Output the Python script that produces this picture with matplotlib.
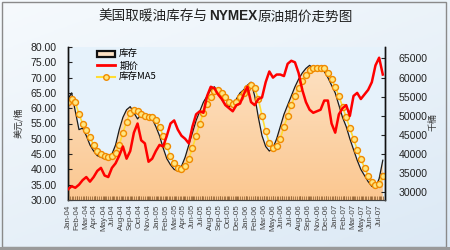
import matplotlib
matplotlib.use('Agg')
import matplotlib.pyplot as plt
import numpy as np
import pandas as pd
from matplotlib.patches import Patch, Rectangle
from matplotlib.lines import Line2D
from matplotlib.colors import LinearSegmentedColormap
from matplotlib.ticker import MultipleLocator, FormatStrFormatter

# ---------------- data (semi-monthly, Jan-04 .. Jul-07) ----------------
stock = [54400, 56000, 51200, 46400, 46800, 44800, 42400, 40800, 39600, 39200,
         38800, 39200, 40000, 42400, 46400, 49600, 51600, 52400, 50800, 49200,
         50400, 49200, 49600, 49200, 47200, 44800, 41600, 38800, 37200, 36000,
         35600, 36800, 39200, 42400, 45600, 48800, 51200, 53600, 55200, 56800,
         57600, 56000, 54400, 52800, 52400, 53200, 54400, 56000, 56800, 58000,
         58800, 55200, 49600, 44800, 42000, 40800, 41600, 44000, 47200, 50400,
         52800, 55200, 57600, 59600, 61200, 62400, 63200, 62400, 62000, 62800,
         61600, 60000, 58000, 56000, 52800, 49600, 47200, 44000, 41200, 38400,
         36000, 34400, 32800, 31600, 31200, 33600, 38400]

stock_ma5 = [53600, 54400, 53600, 50400, 48000, 46400, 44400, 42400, 40800, 40000,
             39440, 39200, 39440, 40400, 42400, 45600, 48400, 50800, 51600, 51200,
             50400, 49840, 49600, 49600, 48800, 47200, 44800, 42000, 39600, 37600,
             36400, 36160, 36800, 38800, 41600, 44800, 48000, 50800, 53200, 54800,
             56400, 56800, 56000, 54800, 53600, 53200, 53600, 54800, 56000, 57200,
             58000, 57200, 54400, 50000, 46000, 42800, 41600, 42000, 44000, 47200,
             50000, 52800, 55200, 57200, 59200, 60800, 62000, 62640, 62400, 62400,
             62400, 61200, 59600, 57600, 55200, 52400, 49600, 46800, 44000, 41200,
             38800, 36400, 34400, 32800, 32000, 32160, 34400]

price = [33.5, 34.5, 34.0, 35.0, 36.5, 37.5, 36.0, 37.5, 39.5, 40.5,
         38.0, 37.5, 40.5, 42.0, 44.5, 47.5, 43.5, 46.0, 52.0, 55.0,
         49.5, 48.5, 42.5, 43.5, 46.0, 48.0, 47.5, 51.0, 55.0, 56.0,
         53.0, 51.0, 50.0, 48.5, 54.0, 58.0, 59.0, 58.5, 64.0, 67.0,
         66.5, 64.5, 63.0, 61.0, 60.0, 59.0, 61.0, 61.5, 64.5, 67.0,
         62.0, 61.0, 63.0, 63.5, 68.5, 72.0, 70.0, 71.0, 71.0, 70.5,
         74.5, 75.5, 75.0, 71.5, 66.0, 62.0, 59.5, 58.5, 59.0, 59.5,
         62.5, 62.5, 55.0, 52.0, 58.0, 60.0, 61.0, 57.5, 64.0, 65.0,
         63.0, 64.5, 66.0, 68.5, 74.0, 76.5, 71.0]

tick_dates = pd.date_range('2004-01-02', periods=36, freq='37D')
tick_labels = [d.strftime('%b-%y') for d in tick_dates]
tick_pos = [(d - pd.Timestamp('2004-01-01')).days / 15.22 for d in tick_dates]

title_parts = ['美国取暖油库存与', 'NYMEX', '原油期价走势图']
legend_labels = ['库存', '期价', '库存MA5']

CJK = ['Noto Sans CJK SC', 'DejaVu Sans']
plt.rcParams['font.family'] = ['Liberation Sans', 'Noto Sans CJK SC', 'DejaVu Sans']

W, H = 450, 250
fig = plt.figure(figsize=(4.5, 2.5), dpi=100)

# figure background gradient
bg = fig.add_axes([0, 0, 1, 1], zorder=-5)
gy, gx = np.mgrid[0:1:100j, 0:1:100j]
bgc = LinearSegmentedColormap.from_list('bg', ['#f6fafd', '#dce9f5'])
bg.imshow(0.6 * gy + 0.4 * gx, cmap=bgc, aspect='auto', extent=[0, 1, 0, 1], origin='upper')
bg.add_patch(Rectangle((0.004, 0.012), 0.988, 0.982, fill=False, ec='#8a8a8a', lw=1.0,
                       transform=bg.transAxes))
bg.add_patch(Rectangle((0.0, 0.0), 1.0, 0.014, fc='#9a9a9a', ec='none', transform=bg.transAxes))
bg.set_xlim(0, 1); bg.set_ylim(0, 1)
bg.axis('off')

ax = fig.add_axes([68 / W, 50 / H, 317 / W, 153 / H])
ax2 = ax.twinx()
ax.set_zorder(2)
ax2.set_zorder(1)
ax.patch.set_visible(False)
ax2.patch.set_visible(True)
ax2.patch.set_facecolor('#e6f2fb')

x = np.arange(len(stock))

# stock area with gradient
poly = ax2.fill_between(x, stock, 28000, color='none', lw=0)
path = poly.get_paths()[0]
grad = np.linspace(0, 1, 256).reshape(-1, 1)
pc = LinearSegmentedColormap.from_list('p', ['#fbc790', '#fde4c8'])
im = ax2.imshow(grad, extent=[0, len(stock) - 1, 28000, 68000], origin='lower',
                aspect='auto', cmap=pc, zorder=1)
im.set_clip_path(path, transform=ax2.transData)
ax2.plot(x, stock, color='#1a1a1a', lw=0.9, zorder=2)
ax2.plot(x, stock_ma5, color='#ffdd33', lw=1.2, marker='o', ms=4.3, mfc='#ffe680',
         mec='#f08a00', mew=1.0, zorder=3)

ax.plot(x, price, color='#ff0000', lw=1.8, zorder=4)

ax.set_xlim(0, 86.6)
ax.set_ylim(30, 80)
ax2.set_ylim(28000, 68000)

ax.yaxis.set_major_locator(MultipleLocator(5))
ax.yaxis.set_major_formatter(FormatStrFormatter('%.2f'))
ax2.yaxis.set_major_locator(MultipleLocator(5000))

ax.set_xticks(tick_pos)
ax.set_xticklabels(tick_labels, rotation=90, fontsize=5.8, color='#444444')
ax.xaxis.set_minor_locator(MultipleLocator(0.5))
ax.tick_params(axis='x', which='both', direction='in', length=3, color='#9a6a3a', pad=3)
ax.tick_params(axis='y', direction='in', length=3, labelsize=7.6, pad=8, colors='#222222')
ax2.tick_params(axis='y', direction='in', length=3, labelsize=7.6, pad=10, colors='#222222')

for a in (ax, ax2):
    a.spines['top'].set_visible(False)
    for s in ('left', 'right'):
        a.spines[s].set_color('#111111')
        a.spines[s].set_linewidth(1.0)
    a.spines['bottom'].set_color('#444444')

# title
ty = 1 - 20.5 / H
fig.text(98 / W, ty, title_parts[0], fontsize=9.8, family=CJK, va='baseline', ha='left', color='#222222')
fig.text(209 / W, ty, title_parts[1], fontsize=9.8, family=['Liberation Sans'], fontweight='bold',
         va='baseline', ha='left', color='#222222')
fig.text(257 / W, ty, title_parts[2], fontsize=9.8, family=CJK, va='baseline', ha='left', color='#222222')

fig.text(18 / W, 1 - 123 / H, '美元/桶', fontsize=6.5, family=CJK, rotation=90, ha='center', va='center',
         color='#333333')
fig.text(433 / W, 1 - 122 / H, '千桶', fontsize=6.5, family=CJK, rotation=90, ha='center', va='center',
         color='#333333')

handles = [Patch(facecolor='#fde2c4', edgecolor='#111111', linewidth=1.6),
           Line2D([], [], color='#ff0000', lw=2.0),
           Line2D([], [], color='#ffdd33', lw=1.5, marker='o', ms=4, mfc='#ffe680', mec='#f08a00', mew=1.0)]
leg = ax.legend(handles, legend_labels, loc='upper left', bbox_to_anchor=(0.09, 0.98), frameon=False,
                prop={'family': CJK, 'size': 6.8}, handlelength=2.0, handleheight=0.6,
                handletextpad=0.4, labelspacing=0.25, borderpad=0.0, borderaxespad=0.0)

fig.savefig('out.png', dpi=100)
